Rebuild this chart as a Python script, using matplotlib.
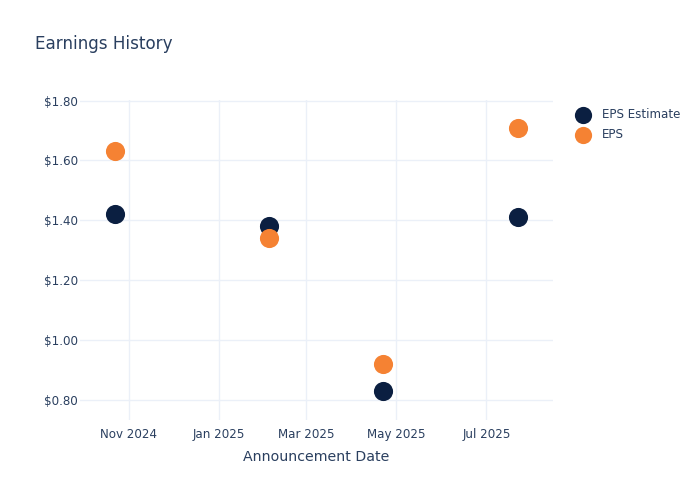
import matplotlib
matplotlib.use("Agg")
import matplotlib.pyplot as plt
import matplotlib.dates as mdates
from matplotlib.ticker import FuncFormatter, FixedLocator
import pandas as pd

dates = ["2024-10-23", "2025-02-04", "2025-04-22", "2025-07-22"]
eps_estimate = [1.42, 1.38, 0.83, 1.41]
eps_actual = [1.63, 1.34, 0.92, 1.71]
y_ticks = [0.8, 1.0, 1.2, 1.4, 1.6, 1.8]

x = pd.to_datetime(dates)

NAVY = "#0b1f41"
ORANGE = "#f58233"
TEXT = "#2a3f5f"
GRID = "#ebf0f8"

plt.rcParams['font.family'] = ['DejaVu Sans']
fig = plt.figure(figsize=(7, 5), dpi=100)
ax = fig.add_axes([80/700, 80/500, 473/700, 320/500])

ax.scatter(x, eps_estimate, s=190, color=NAVY, label="EPS Estimate", zorder=3, linewidths=0)
ax.scatter(x, eps_actual, s=190, color=ORANGE, label="EPS", zorder=4, linewidths=0)

ax.set_xlim(pd.Timestamp("2024-09-29"), pd.Timestamp("2025-08-15"))
ax.set_ylim(0.733, 1.802)

ax.yaxis.set_major_locator(FixedLocator(y_ticks))
ax.yaxis.set_major_formatter(FuncFormatter(lambda v, p: f"${v:.2f}"))
ax.xaxis.set_major_locator(mdates.MonthLocator(bymonth=[1, 3, 5, 7, 9, 11]))
ax.xaxis.set_major_formatter(mdates.DateFormatter("%b %Y"))

ax.grid(True, color=GRID, linewidth=1)
ax.set_axisbelow(True)
for sp in ax.spines.values():
    sp.set_visible(False)
ax.tick_params(axis='both', length=0, labelsize=8.6, colors=TEXT)
ax.tick_params(axis='y', pad=1.5)
ax.tick_params(axis='x', pad=6)

ax.set_xlabel("Announcement Date", fontsize=10.2, color=TEXT, labelpad=6)

fig.text(35/700, 1 - 44/500, "Earnings History", fontsize=12.1, color=TEXT, va='center', ha='left')

leg = ax.legend(loc='upper left', bbox_to_anchor=((577 - 80)/473, 1 - 8/320), frameon=False,
                fontsize=8.6, labelcolor=TEXT, handlelength=1.0, handletextpad=1.1,
                borderaxespad=0, borderpad=0, labelspacing=0.6, markerscale=0.9)

fig.savefig("out.png", dpi=100, facecolor="white")
